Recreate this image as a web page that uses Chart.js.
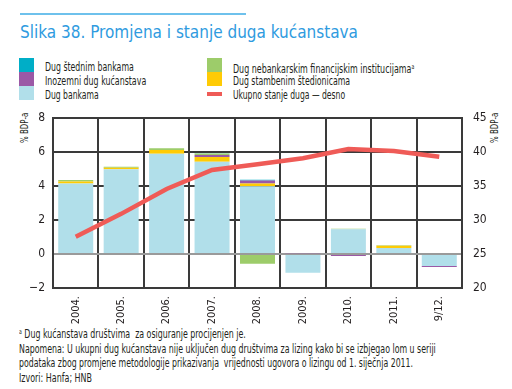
<!DOCTYPE html>
<html>
<head>
<meta charset="utf-8">
<script src="https://cdn.jsdelivr.net/npm/chart.js@4.4.1/dist/chart.umd.min.js"></script>
<style>
  html,body{margin:0;padding:0;background:#fff;}
  body{width:512px;height:389px;position:relative;overflow:hidden;
       font-family:'Liberation Sans Narrow','DejaVu Sans Condensed','Roboto Condensed',sans-serif;color:#231f20;}
  #topline{position:absolute;left:20px;top:13px;width:226px;height:2px;background:#6ec1ec;}
  #title{position:absolute;left:20px;top:21px;font-size:18px;color:#2f9be0;white-space:nowrap;transform-origin:0 0;}
  .lg{position:absolute;font-size:12px;white-space:nowrap;line-height:14px;transform-origin:0 0;}
  .sw{position:absolute;width:15px;height:14px;}
  .ax{position:absolute;font-size:10.5px;white-space:nowrap;transform-origin:0 0;color:#231f20;}
  .fn{position:absolute;left:19px;font-size:12px;white-space:nowrap;transform-origin:0 0;}
  sup{font-size:7px;vertical-align:4px;}
  canvas{position:absolute;left:0;top:0;}
</style>
</head>
<body>
<div id="topline"></div>
<div id="title">Slika 38. Promjena i stanje duga kućanstava</div>
<div id="legend"></div>
<div class="ax" id="axl" style="left:18px;top:143px;">% BDP-a</div>
<div class="ax" id="axr" style="left:488px;top:143px;">% BDP-a</div>
<div class="fn" id="f1" style="top:327px;"><sup>a</sup> Dug kućanstava društvima&nbsp; za osiguranje procijenjen je.</div>
<div class="fn" id="f2" style="top:342px;">Napomena: U ukupni dug kućanstava nije uključen dug društvima za lizing kako bi se izbjegao lom u seriji</div>
<div class="fn" id="f3" style="top:356px;">podataka zbog promjene metodologije prikazivanja&nbsp; vrijednosti ugovora o lizingu od 1. siječnja 2011.</div>
<div class="fn" id="f4" style="top:371px;">Izvori: Hanfa; HNB</div>
<canvas id="c" width="512" height="389"></canvas>
<script>
const categories = ['2004.','2005.','2006.','2007.','2008.','2009.','2010.','2011.','9/12.'];
const dugBankama       = [4.15, 4.98, 5.90, 5.43, 3.98, -1.10, 1.45, 0.35, -0.70];
const dugStambenim     = [0.12, 0.10, 0.22, 0.28, 0.17, 0.00, 0.00, 0.14, 0.00];
const inozemniDug      = [0.00, 0.00, 0.00, 0.12, 0.18, 0.05, -0.12, 0.00, -0.06];
const dugNebankarskim  = [0.08, 0.05, 0.10, 0.08, -0.57, 0.00, 0.03, 0.03, 0.00];
const dugStednim       = [0.00, 0.00, 0.00, 0.02, 0.04, 0.00, 0.00, 0.00, 0.00];
const ukupnoStanje     = [27.55, 30.9, 34.56, 37.35, 38.2, 39.07, 40.44, 40.15, 39.3];
const leftTicks  = [-2, 0, 2, 4, 6, 8];
const rightTicks = [20, 25, 30, 35, 40, 45];

const C = {teal:'#00aec7', purple:'#9b59a6', light:'#b1dfea', green:'#9dcc6a', yellow:'#ffcb05', red:'#ef5b57'};

function fitW(el, w, rot){
  const nat = el.scrollWidth;
  const k = w / nat;
  el.style.transform = (rot ? 'rotate(-90deg) ' : '') + 'scaleX(' + k + ')';
}

// HTML legend
const legendItems = [
  {t:'Dug štednim bankama', c:C.teal, x:19, y:58, w:89},
  {t:'Inozemni dug kućanstava', c:C.purple, x:19, y:72, w:101},
  {t:'Dug bankama', c:C.light, x:19, y:86, w:54},
  {t:'Dug nebankarskim financijskim institucijama<sup>a</sup>', c:C.green, x:207, y:58, w:181},
  {t:'Dug stambenim štedionicama', c:C.yellow, x:207, y:72, w:117},
  {t:'Ukupno stanje duga — desno', c:C.red, x:207, y:86, w:112, line:true}
];
const lg = document.getElementById('legend');
legendItems.forEach(it=>{
  const s=document.createElement('div');
  s.className='sw';
  s.style.left=it.x+'px';
  if(it.line){ s.style.top=(it.y+6)+'px'; s.style.height='4px'; }
  else { s.style.top=it.y+'px'; }
  s.style.background=it.c;
  lg.appendChild(s);
  const d=document.createElement('div');
  d.className='lg'; d.style.left=(it.x+26)+'px'; d.style.top=(it.y+2)+'px';
  d.innerHTML=it.t; lg.appendChild(d);
  fitW(d, it.w);
});
fitW(document.getElementById('title'), 338);
fitW(document.getElementById('f1'), 227);
fitW(document.getElementById('f2'), 417);
fitW(document.getElementById('f3'), 394);
fitW(document.getElementById('f4'), 73);
fitW(document.getElementById('axl'), 30, true);
fitW(document.getElementById('axr'), 30, true);

const FONT = "'Liberation Sans Narrow','DejaVu Sans Condensed',sans-serif";
const bar = (label,data,color)=>({type:'bar',label,data,backgroundColor:color,borderWidth:0,
  yAxisID:'y',stack:'s',order:1,barPercentage:0.77,categoryPercentage:1});

new Chart(document.getElementById('c'),{
  data:{
    labels:categories,
    datasets:[
      {type:'line',label:'Ukupno stanje duga — desno',data:ukupnoStanje,borderColor:C.red,borderWidth:4.5,
       pointRadius:0,tension:0,yAxisID:'y1',order:0,fill:false},
      bar('Dug bankama',dugBankama,C.light),
      bar('Dug stambenim štedionicama',dugStambenim,C.yellow),
      bar('Inozemni dug kućanstava',inozemniDug,C.purple),
      bar('Dug nebankarskim financijskim institucijama',dugNebankarskim,C.green),
      bar('Dug štednim bankama',dugStednim,C.teal)
    ]
  },
  options:{
    responsive:false,animation:false,
    layout:{padding:{left:0,right:0,top:118,bottom:50}},
    plugins:{legend:{display:false},tooltip:{enabled:false}},
    scales:{
      x:{stacked:true,
         grid:{color:'#3a3a3a',lineWidth:2,offset:true,drawTicks:false},
         border:{color:'#3a3a3a',width:2},
         ticks:{font:{family:FONT,size:11},color:'#231f20',minRotation:90,maxRotation:90,padding:8},
         afterFit:s=>{s.height=51;}},
      y:{position:'left',stacked:true,min:-2,max:8,
         afterBuildTicks:s=>{s.ticks=leftTicks.map(v=>({value:v}));},
         grid:{color:c=>c.tick&&c.tick.value===0?'#9a9a9a':'#3a3a3a',lineWidth:2,drawTicks:false},
         border:{color:'#3a3a3a',width:2},
         ticks:{font:{family:FONT,size:12},color:'#231f20',padding:8,
                callback:v=>v<0?'−'+Math.abs(v):v},
         afterFit:s=>{s.width=53;}},
      y1:{position:'right',min:20,max:45,
         afterBuildTicks:s=>{s.ticks=rightTicks.map(v=>({value:v}));},
         grid:{display:false,drawTicks:false},
         border:{color:'#3a3a3a',width:2},
         ticks:{font:{family:FONT,size:12},color:'#231f20',padding:11},
         afterFit:s=>{s.width=50;}}
    }
  }
});
</script>
</body>
</html>
